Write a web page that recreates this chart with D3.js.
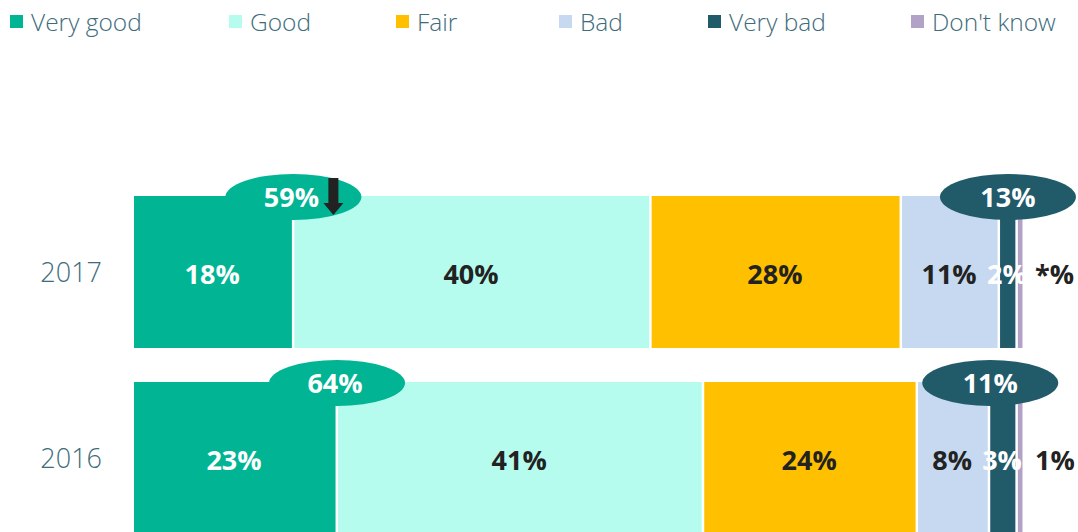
<!DOCTYPE html>
<html>
<head>
<meta charset="utf-8">
<script src="https://cdn.jsdelivr.net/npm/d3@7"></script>
<style>
  body { margin: 0; background: #fff; }
  text { font-family: "Open Sans", "Noto Sans", sans-serif; }
</style>
</head>
<body>
<div id="chart"></div>
<script>
// data
const years = ['2017', '2016'];
const categories = ['Very good', 'Good', 'Fair', 'Bad', 'Very bad', "Don't know"];
const values2017 = [18.0, 40.1, 28.1, 11.0, 2.0, 0.8];
const values2016 = [22.9, 41.1, 24.0, 8.1, 3.1, 0.8];
const labels2017 = ['18%', '40%', '28%', '11%', '2%', '*%'];
const labels2016 = ['23%', '41%', '24%', '8%', '3%', '1%'];
// net "good" (very good + good) and "very bad" call-outs
const goodTotals = ['59%', '64%'];
const badTotals = ['13%', '11%'];
const goodArrow = [true, false];

const colors = ['#00b494', '#b5fcee', '#ffc000', '#c6d9f0', '#215a69', '#b3a2c7'];
const labelColors = ['#fff', '#222', '#222', '#222', '#fff', '#222'];

const width = 1078;
const height = 532;

const svg = d3.select('#chart')
  .append('svg')
  .attr('width', width)
  .attr('height', height);

const x = d3.scaleLinear()
  .domain([0, 100])
  .range([134, 1025]);

const y = d3.scaleBand()
  .domain(years)
  .range([196, 534])
  .paddingInner(0.183);

const rows = years.map((year, i) => {
  const vals = i === 0 ? values2017 : values2016;
  const labs = i === 0 ? labels2017 : labels2016;
  let cum = 0;
  const segs = vals.map((v, k) => {
    const s = { key: categories[k], start: cum, end: cum + v, label: labs[k], k: k };
    cum += v;
    return s;
  });
  return { year: year, segs: segs, good: goodTotals[i], bad: badTotals[i], arrow: goodArrow[i] };
});

// legend
const legendX = [10, 229, 396, 559, 708, 911];
const legend = svg.append('g').attr('class', 'legend');
const item = legend.selectAll('g')
  .data(categories)
  .enter()
  .append('g')
  .attr('transform', (d, i) => `translate(${legendX[i]}, 0)`);
item.append('rect')
  .attr('y', 15)
  .attr('width', 13)
  .attr('height', 13)
  .attr('fill', (d, i) => colors[i]);
item.append('text')
  .attr('x', 21)
  .attr('y', 31)
  .attr('font-size', 24.5)
  .attr('font-weight', 300)
  .attr('fill', '#3e6c7b')
  .text(d => d);

// bars
const rowG = svg.selectAll('.row')
  .data(rows)
  .enter()
  .append('g')
  .attr('class', 'row')
  .attr('transform', d => `translate(0, ${y(d.year)})`);

rowG.append('text')
  .attr('x', 102)
  .attr('y', 86)
  .attr('text-anchor', 'end')
  .attr('font-size', 27)
  .attr('font-weight', 300)
  .attr('fill', '#3e6c7b')
  .text(d => d.year);

rowG.selectAll('rect')
  .data(d => d.segs)
  .enter()
  .append('rect')
  .attr('x', d => x(d.start))
  .attr('y', 0)
  .attr('width', d => Math.max(1, x(d.end) - x(d.start) - 2.5))
  .attr('height', y.bandwidth())
  .attr('fill', d => colors[d.k]);

// call-out ellipses sit on top of the bars
const rx = 68;
const ry = 23;
rowG.each(function (d, i) {
  const g = d3.select(this);
  const vg = d.segs[1];
  const vb = d.segs[4];
  const cxGood = x(vg.start) - 1;
  // the very bad bubble is nudged left in the 2016 row
  const cxBad = i === 0 ? (x(vb.start) + x(vb.end)) / 2 - 1 : x(vb.start);

  g.append('ellipse')
    .attr('cx', cxGood)
    .attr('cy', 1)
    .attr('rx', rx)
    .attr('ry', ry)
    .attr('fill', colors[0]);
  g.append('text')
    .attr('x', cxGood - 2)
    .attr('y', 11)
    .attr('text-anchor', 'middle')
    .attr('font-size', 27)
    .attr('font-weight', 700)
    .attr('fill', '#fff')
    .text(d.good);

  if (d.arrow) {
    const ax = cxGood + 40;
    g.append('path')
      .attr('d', `M${ax - 5},-18 L${ax + 5},-18 L${ax + 5},7 L${ax + 10},7 L${ax},19 L${ax - 10},7 L${ax - 5},7 Z`)
      .attr('fill', '#222');
  }

  g.append('ellipse')
    .attr('cx', cxBad)
    .attr('cy', 1)
    .attr('rx', rx)
    .attr('ry', ry)
    .attr('fill', colors[4]);
  g.append('text')
    .attr('x', cxBad)
    .attr('y', 11)
    .attr('text-anchor', 'middle')
    .attr('font-size', 27)
    .attr('font-weight', 700)
    .attr('fill', '#fff')
    .text(d.bad);
});

// segment labels
rowG.selectAll('.seglabel')
  .data(d => d.segs)
  .enter()
  .append('text')
  .attr('class', 'seglabel')
  .attr('x', d => d.k === 5 ? x(100) + 10 : (x(d.start) + x(d.end)) / 2 - 2)
  .attr('y', 88)
  .attr('text-anchor', d => d.k === 5 ? 'start' : 'middle')
  .attr('font-size', 27)
  .attr('font-weight', 700)
  .attr('fill', d => labelColors[d.k])
  .text(d => d.label);
</script>
</body>
</html>
